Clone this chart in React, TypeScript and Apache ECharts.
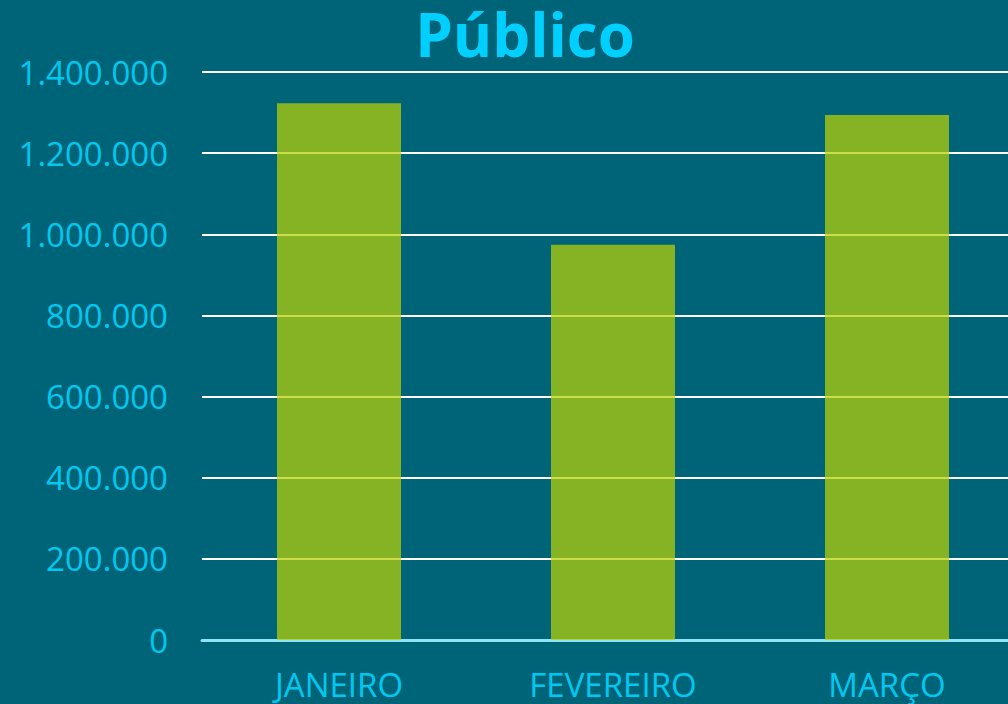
import React, { useEffect, useRef } from "react";
import * as echarts from "echarts";

const categories = ["JANEIRO", "FEVEREIRO", "MARÇO"];
const publico = [1323000, 974000, 1294000];
const yTicks = [0, 200000, 400000, 600000, 800000, 1000000, 1200000, 1400000];

const fmt = (v: number) => String(Math.round(v)).replace(/\B(?=(\d{3})+(?!\d))/g, ".");

export default function App() {
  const ref = useRef<HTMLDivElement>(null);
  useEffect(() => {
    document.body.style.margin = "0";
    document.body.style.overflow = "hidden";
    const chart = echarts.init(ref.current!, null, { renderer: "svg" });
    chart.setOption({
      animation: false,
      backgroundColor: "#006478",
      title: {
        text: "Público",
        left: 520,
        textAlign: "center",
        top: -1,
        textStyle: { color: "#00D0FF", fontSize: 60, fontWeight: "bold", fontFamily: "Open Sans" },
      },
      grid: { left: 202, right: 0, top: 72, bottom: 64, containLabel: false },
      xAxis: {
        type: "category",
        data: categories,
        axisLine: { show: true, lineStyle: { color: "#8EE4F4", width: 3 } },
        axisTick: { show: false },
        axisLabel: { color: "#00C8F0", fontSize: 33, fontFamily: "Open Sans", margin: 28 },
      },
      yAxis: {
        type: "value",
        min: yTicks[0],
        max: yTicks[yTicks.length - 1],
        interval: 200000,
        axisLine: { show: false },
        axisTick: { show: false },
        splitLine: { lineStyle: { color: "#FFFFFF", width: 2 } },
        axisLabel: { color: "#00C8F0", fontSize: 33, fontFamily: "Open Sans", margin: 34, formatter: fmt },
      },
      series: [
        {
          type: "bar",
          data: publico,
          barWidth: 124,
          itemStyle: { color: "rgba(184,208,4,0.73)" },
        },
      ],
    });
    return () => chart.dispose();
  }, []);
  return (
    <div style={{ width: 1008, height: 704, overflow: "hidden" }}>
      <div ref={ref} style={{ width: 1024, height: 704 }} />
    </div>
  );
}
